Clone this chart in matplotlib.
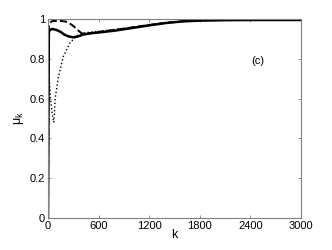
import matplotlib
matplotlib.use("Agg")
import matplotlib.pyplot as plt
import numpy as np

plt.rcParams['font.family'] = ['Liberation Sans', 'DejaVu Sans']

# solid curve
k_solid = [0, 5, 10, 20, 50, 100, 150, 200, 250, 300, 350, 420, 500, 600, 800,
           1000, 1200, 1400, 1600, 1800, 2100, 2400, 2700, 3000]
mu_solid = [0, 0.5, 0.93, 0.945, 0.95, 0.945, 0.935, 0.92, 0.912, 0.908, 0.912,
            0.922, 0.928, 0.932, 0.942, 0.955, 0.968, 0.980, 0.988, 0.992,
            0.994, 0.995, 0.995, 0.995]

# dashed curve
k_dash = [0, 5, 10, 20, 50, 100, 150, 200, 250, 300, 350, 400, 450, 500, 600,
          800, 1000, 1200, 1400, 1600, 1800, 2100, 2400, 2700, 3000]
mu_dash = [0, 0.6, 0.97, 0.98, 0.99, 0.99, 0.99, 0.988, 0.98, 0.965, 0.945,
           0.928, 0.925, 0.928, 0.935, 0.946, 0.958, 0.970, 0.981, 0.989,
           0.993, 0.995, 0.996, 0.996, 0.996]

# dotted curve
k_dot = [0, 2, 15, 30, 50, 70, 85, 120, 180, 260, 340, 420, 500, 600,
         800, 1000, 1200, 1400, 1600, 1800, 2100, 2400, 2700, 3000]
mu_dot = [0, 0.71, 0.70, 0.60, 0.52, 0.48, 0.60, 0.70, 0.81, 0.88, 0.915,
          0.93, 0.934, 0.938, 0.948, 0.958, 0.970, 0.981, 0.989,
          0.993, 0.995, 0.996, 0.996, 0.996]

x_ticks = [0, 600, 1200, 1800, 2400, 3000]
y_ticks = [0, 0.2, 0.4, 0.6, 0.8, 1]
y_labels = ['0', '0.2', '0.4', '0.6', '0.8', '1']

fig = plt.figure(figsize=(3.32, 2.5), dpi=100)
ax = fig.add_axes([48 / 332, 32 / 250, 253 / 332, 199 / 250])

ax.plot(k_dot, mu_dot, color='k', linestyle=':', linewidth=1.0)
ax.plot(k_dash, mu_dash, color='k', linestyle='--', linewidth=1.4)
ax.plot(k_solid, mu_solid, color='k', linestyle='-', linewidth=1.8)

ax.set_xlim(0, 3000)
ax.set_ylim(0, 1)
ax.set_xticks(x_ticks)
ax.set_xticklabels([str(t) for t in x_ticks])
ax.set_yticks(y_ticks)
ax.set_yticklabels(y_labels)
ax.tick_params(direction='in', length=2.5, width=0.6, color='#808080',
               labelsize=8, top=True, right=True, pad=2)
for s in ax.spines.values():
    s.set_color('#808080')
    s.set_linewidth(0.8)

ax.set_xlabel('k', fontsize=9, labelpad=-1)
ax.set_ylabel(r'$\mathregular{\mu_k}$', fontsize=9, labelpad=3)
ax.text(2490, 0.79, '(c)', fontsize=8, ha='center', va='center')

fig.savefig('out.png', dpi=100)
